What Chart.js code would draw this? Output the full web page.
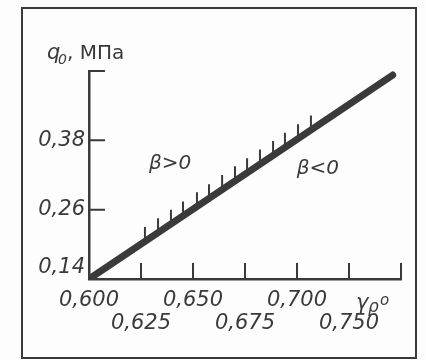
<!DOCTYPE html>
<html>
<head>
<meta charset="utf-8">
<script src="https://cdn.jsdelivr.net/npm/chart.js@4.4.1/dist/chart.umd.min.js"></script>
<style>
  html, body { margin: 0; padding: 0; background: #fdfdfd; }
</style>
</head>
<body>
<canvas id="chart" width="426" height="360"></canvas>
<script>
// axis ticks and their printed labels (labels alternate between two rows)
const X_TICKS = [0.600, 0.625, 0.650, 0.675, 0.700, 0.725, 0.750];
const X_TICK_TEXT = [['0,600', ''], ['', '0,625'], ['0,650', ''], ['', '0,675'], ['0,700', ''], ['', '0,750'], ['', '']];
const Y_TICKS = [0.14, 0.26, 0.38, 0.50];
const Y_TICK_TEXT = [['0,14', ''], '0,26', '0,38', ''];

// main boundary line
const LINE_X = [0.600, 0.746];
const LINE_Y = [0.140, 0.493];

// hatch strokes on the upper side of the line
const HATCH_X = [0.6269, 0.6332, 0.6394, 0.6452, 0.6519, 0.6577, 0.6640, 0.6702, 0.6760, 0.6822, 0.6885, 0.6942, 0.7005, 0.7067];
const HATCH_BOTTOM = [0.205, 0.220, 0.235, 0.249, 0.265, 0.279, 0.295, 0.310, 0.324, 0.339, 0.354, 0.368, 0.383, 0.398];
const HATCH_TOP = [0.230, 0.245, 0.260, 0.274, 0.290, 0.304, 0.320, 0.335, 0.349, 0.364, 0.379, 0.393, 0.408, 0.423];

// region labels
const REGION_TEXT = ['\u03B2>0', '\u03B2<0'];
const REGION_X = [0.639, 0.710];
const REGION_Y = [0.339, 0.330];

const INK = '#3a3a3a';
const FONT = 'DejaVu Sans';

const hatchData = [];
HATCH_X.forEach((x, i) => {
    hatchData.push({ x: x, y: HATCH_BOTTOM[i] });
    hatchData.push({ x: x, y: HATCH_TOP[i] });
    hatchData.push({ x: x, y: null });
});

const decor = {
    id: 'decor',
    beforeDraw(chart) {
        const ctx = chart.ctx;
        ctx.save();
        ctx.fillStyle = '#fdfdfd';
        ctx.fillRect(0, 0, chart.width, chart.height);
        ctx.strokeStyle = INK;
        ctx.lineWidth = 2;
        ctx.strokeRect(22, 8, 394, 350);
        ctx.restore();
    },
    afterDraw(chart) {
        const ctx = chart.ctx;
        const xs = chart.scales.x, ys = chart.scales.y;
        const area = chart.chartArea;
        ctx.save();
        ctx.strokeStyle = INK;
        ctx.lineWidth = 2;
        ctx.beginPath();
        // inward tick marks
        X_TICKS.slice(1).forEach(v => {
            const px = xs.getPixelForValue(v);
            ctx.moveTo(px, area.bottom);
            ctx.lineTo(px, area.bottom - 16);
        });
        Y_TICKS.slice(1).forEach(v => {
            const py = ys.getPixelForValue(v);
            ctx.moveTo(area.left, py);
            ctx.lineTo(area.left + 16, py);
        });
        ctx.stroke();

        ctx.fillStyle = INK;
        ctx.textBaseline = 'alphabetic';
        // y axis title
        const tx = area.left - 42, ty = area.top - 12;
        ctx.font = 'italic 21px "' + FONT + '"';
        ctx.fillText('q', tx, ty);
        ctx.font = 'italic 14px "' + FONT + '"';
        ctx.fillText('0', tx + 11, ty + 5);
        ctx.font = '20px "' + FONT + '"';
        ctx.fillText(', \u041C\u041F\u0430', tx + 20, ty);

        // x axis title
        const gx = xs.getPixelForValue(0.7284), gy = area.bottom + 30;
        ctx.font = 'italic 21px "' + FONT + '"';
        ctx.fillText('\u03B3', gx, gy);
        ctx.font = 'italic 17px "' + FONT + '"';
        ctx.fillText('\u03C1', gx + 12, gy + 3);
        ctx.font = 'italic 15px "' + FONT + '"';
        ctx.fillText('o', gx + 24, gy - 4);

        // region labels
        ctx.font = 'italic 20px "' + FONT + '"';
        ctx.textAlign = 'center';
        ctx.textBaseline = 'middle';
        REGION_TEXT.forEach((t, i) => {
            ctx.fillText(t, xs.getPixelForValue(REGION_X[i]), ys.getPixelForValue(REGION_Y[i]));
        });
        ctx.restore();
    }
};

const tickFont = { family: FONT, size: 21, style: 'italic', lineHeight: 1.05 };

new Chart(document.getElementById('chart'), {
    type: 'line',
    data: {
        datasets: [
            {
                data: LINE_X.map((x, i) => ({ x: x, y: LINE_Y[i] })),
                borderColor: INK,
                borderWidth: 7,
                borderCapStyle: 'round',
                pointRadius: 0,
                clip: { left: 0, bottom: 0, top: 10, right: 10 }
            },
            {
                data: hatchData,
                borderColor: INK,
                borderWidth: 2,
                pointRadius: 0,
                spanGaps: false
            }
        ]
    },
    options: {
        responsive: false,
        devicePixelRatio: 1,
        animation: false,
        layout: { padding: { left: 0, top: 71, right: 25, bottom: 0 } },
        plugins: { legend: { display: false }, tooltip: { enabled: false } },
        scales: {
            x: {
                type: 'linear',
                min: 0.600,
                max: 0.750,
                afterBuildTicks: s => { s.ticks = X_TICKS.map(v => ({ value: v })); },
                afterFit: s => { s.height = 81; },
                grid: { display: false, drawTicks: false },
                border: { display: true, color: INK, width: 2.5 },
                ticks: {
                    autoSkip: false,
                    maxRotation: 0,
                    padding: 11,
                    color: INK,
                    font: tickFont,
                    callback: (v, i) => X_TICK_TEXT[i]
                }
            },
            y: {
                type: 'linear',
                min: 0.14,
                max: 0.50,
                afterBuildTicks: s => { s.ticks = Y_TICKS.map(v => ({ value: v })); },
                afterFit: s => { s.width = 89; },
                grid: { display: false, drawTicks: false },
                border: { display: true, color: INK, width: 2.5 },
                ticks: {
                    padding: 4,
                    color: INK,
                    font: tickFont,
                    callback: (v, i) => Y_TICK_TEXT[i]
                }
            }
        }
    },
    plugins: [decor]
});
</script>
</body>
</html>
